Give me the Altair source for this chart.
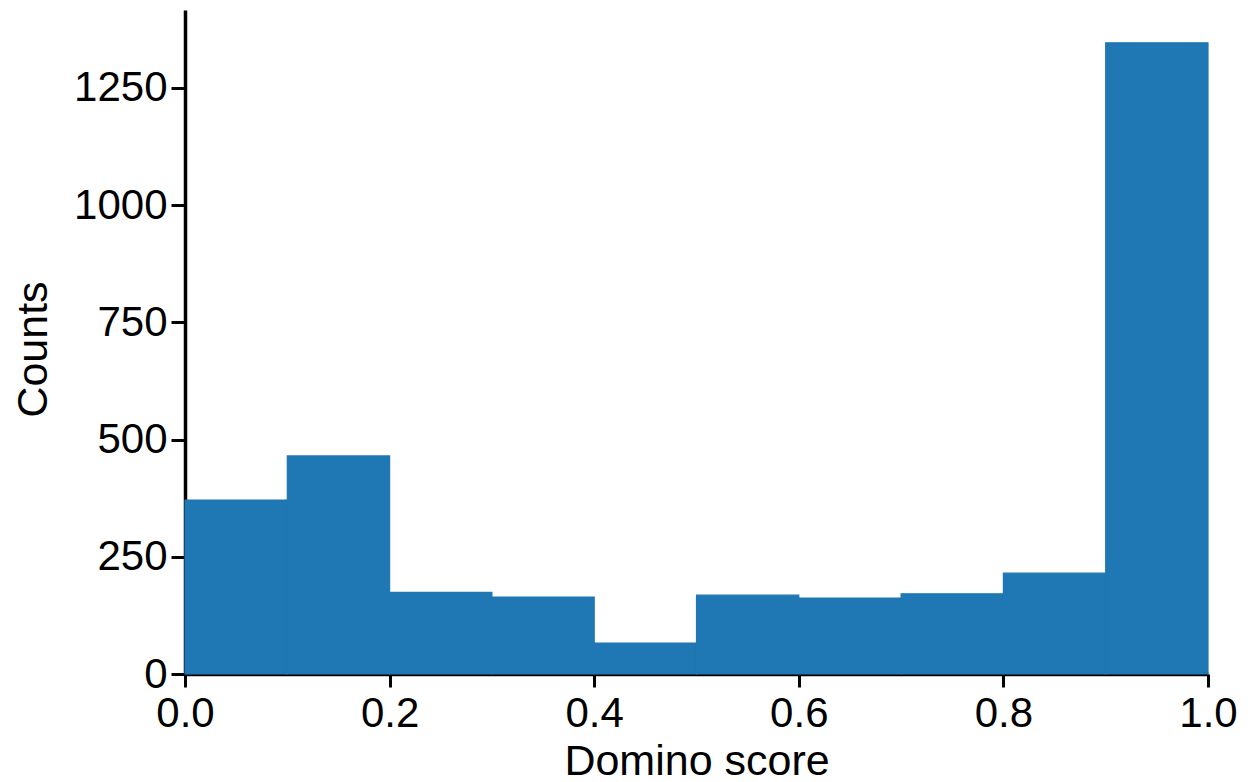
import altair as alt
import pandas as pd

# Histogram of domino scores: ten equal-width bins on [0, 1]
bin_start = [0.0, 0.1, 0.2, 0.3, 0.4, 0.5, 0.6, 0.7, 0.8, 0.9]
bin_end = [0.1, 0.2, 0.3, 0.4, 0.5, 0.6, 0.7, 0.8, 0.9, 1.0]
counts = [371, 465, 174, 164, 66, 168, 162, 171, 215, 1346]

x_ticks = [0.0, 0.2, 0.4, 0.6, 0.8, 1.0]
y_ticks = [0, 250, 500, 750, 1000, 1250]

df = pd.DataFrame({"start": bin_start, "end": bin_end, "count": counts})

FONT = "Liberation Sans"
PLOT_W, PLOT_H = 1023, 664
BLUE = "#1f77b4"

chart = (
    alt.Chart(df)
    .mark_rect(color=BLUE, stroke=BLUE, strokeWidth=1.2)
    .encode(
        x=alt.X(
            "start:Q",
            scale=alt.Scale(domain=[0, 1], nice=False, zero=False),
            axis=alt.Axis(
                title="Domino score",
                values=x_ticks,
                format=".1f",
                grid=False,
                domainWidth=3.5,
                domainColor="black",
                tickWidth=3,
                tickColor="black",
                tickSize=13,
                labelPadding=6,
                labelFont=FONT,
                labelFontSize=42,
                labelColor="black",
                labelFlush=False,
                titleFont=FONT,
                titleFontSize=43,
                titleFontWeight="normal",
                titleColor="black",
                titleX=PLOT_W / 2,
                titleY=100,
                titleBaseline="alphabetic",
                titleAlign="center",
            ),
        ),
        x2="end:Q",
        y=alt.Y(
            "count:Q",
            scale=alt.Scale(domain=[0, 1416], nice=False),
            axis=alt.Axis(
                title="Counts",
                values=y_ticks,
                format="d",
                grid=False,
                domainWidth=3.5,
                domainColor="black",
                tickWidth=3,
                tickColor="black",
                tickSize=14,
                labelPadding=4,
                labelFont=FONT,
                labelFontSize=42,
                labelColor="black",
                labelFlush=False,
                titleFont=FONT,
                titleFontSize=43,
                titleFontWeight="normal",
                titleColor="black",
                titleX=-152,
                titleY=PLOT_H / 2 + 7,
                titleAngle=270,
                titleBaseline="middle",
                titleAlign="center",
            ),
        ),
        y2=alt.datum(0),
    )
    .properties(
        width=PLOT_W,
        height=PLOT_H,
        background="white",
        autosize=alt.AutoSizeParams(type="none"),
        padding={"left": 185, "top": 10, "right": 43, "bottom": 108},
    )
    .configure_view(stroke="transparent", strokeWidth=0)
)

chart.save("out.html", embed_options={"renderer": "svg", "actions": False})
